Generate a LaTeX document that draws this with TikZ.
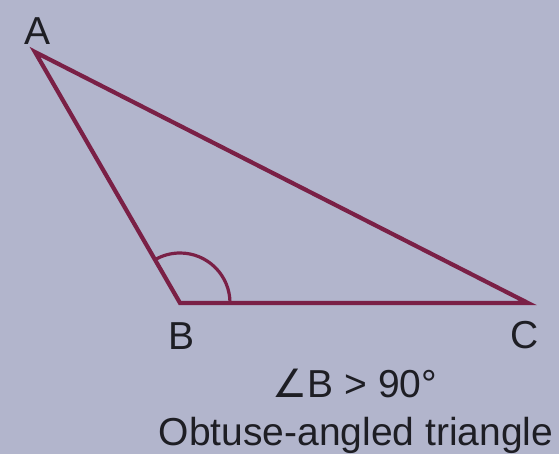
\documentclass[tikz,border=0pt]{standalone}
\usepackage{fontspec}
\setmainfont{Liberation Sans}
\newfontfamily\symfont{DejaVu Sans}
\definecolor{bgcol}{RGB}{178,181,204}
\definecolor{edgecol}{RGB}{122,32,70}
\definecolor{txtcol}{RGB}{30,30,36}
\begin{document}
\begin{tikzpicture}[x=1pt,y=1pt,
  side/.style={draw=edgecol,line width=4.2pt,line join=miter},
  lbl/.style={text=txtcol,font=\fontsize{39}{41}\selectfont,inner sep=0pt,anchor=base},
  arcline/.style={draw=edgecol,line width=3.2pt}]
\fill[bgcol] (0,0) rectangle (559,454);
\useasboundingbox (0,0) rectangle (559,454);
\coordinate (A) at (35,402);
\coordinate (B) at (180,151);
\coordinate (C) at (528,151);
\draw[side] (A) -- (B) -- (C) -- cycle;
\draw[arcline] ([xshift=50pt]B) arc[start angle=0,end angle=120,radius=50pt];
\node[lbl] (la) at (38,409) {A};
\node[lbl] (lb) at (182,104) {B};
\node[lbl] (lc) at (525,105) {C};
\node[lbl] (t1) at (355,56) {{\symfont ∠}B > 90°};
\node[lbl] (t2) at (356,8) {Obtuse-angled triangle};
\end{tikzpicture}
\end{document}
